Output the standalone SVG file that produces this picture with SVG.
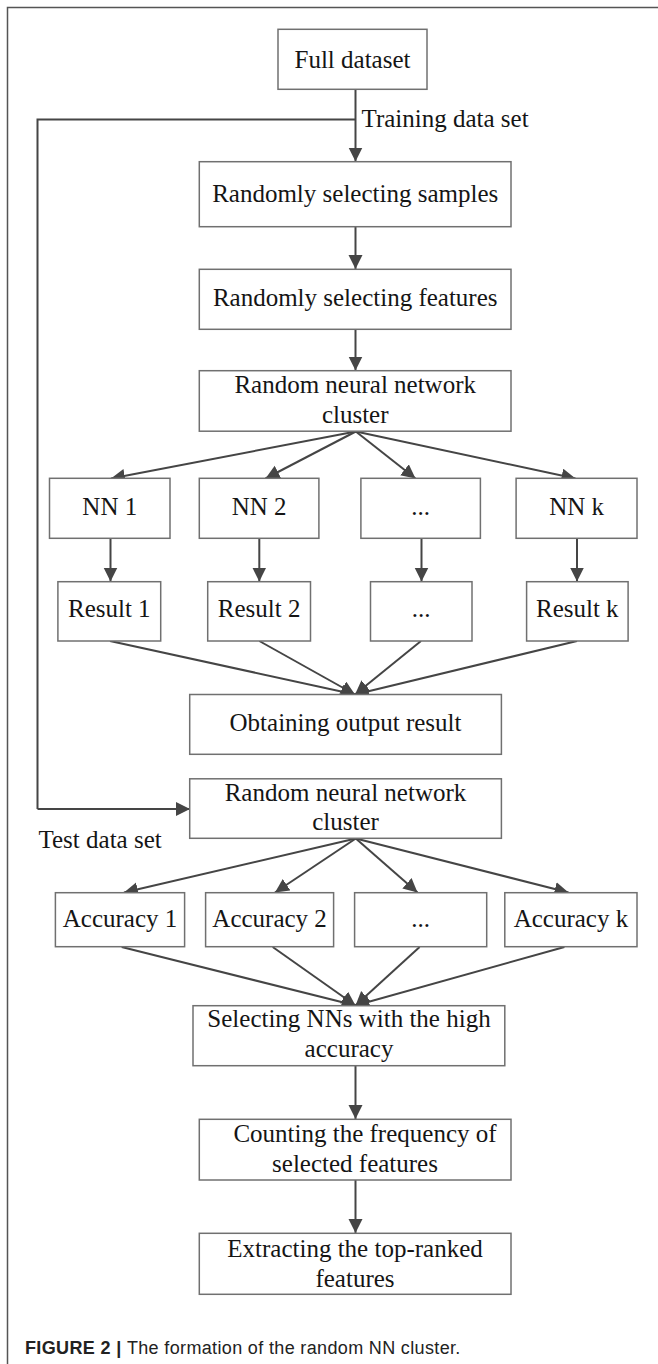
<svg xmlns="http://www.w3.org/2000/svg" width="658" height="1364" viewBox="0 0 658 1364">
<defs>
<style>
.box{fill:#fff;stroke:#707070;stroke-width:1.5}
.t{font-family:"Liberation Serif","Times New Roman",serif;font-size:25px;fill:#151515;text-anchor:middle}
.tl{font-family:"Liberation Serif","Times New Roman",serif;font-size:25px;fill:#151515}
.c{fill:none;stroke:#454545;stroke-width:2}
.a{fill:none;stroke:#454545;stroke-width:2;marker-end:url(#ah)}
.frame{fill:none;stroke:#555;stroke-width:1.5}
.cap{font-family:"Liberation Sans",Arial,sans-serif;font-size:18px;letter-spacing:0.35px;fill:#222}
</style>
<marker id="ah" markerUnits="userSpaceOnUse" markerWidth="16" markerHeight="16" refX="14" refY="7" orient="auto">
<path d="M0,0 L14,7 L0,14 Z" fill="#454545"/>
</marker>
</defs>
<rect width="658" height="1364" fill="#fff"/>
<path class="frame" d="M7.5,1364 V7.5 H658"/>

<g id="connectors">
<line class="a" x1="355.5" y1="89" x2="355.5" y2="161.5"/>
<path class="c" d="M355.5,119.5 H37.5 V809"/>
<line class="a" x1="37.5" y1="809" x2="190" y2="809"/>
<line class="a" x1="355.5" y1="227" x2="355.5" y2="269"/>
<line class="a" x1="355.5" y1="329" x2="355.5" y2="370.5"/>
<line class="a" x1="355.8" y1="431.5" x2="111" y2="478.5"/>
<line class="a" x1="355.8" y1="431.5" x2="265.5" y2="478.5"/>
<line class="a" x1="355.8" y1="431.5" x2="415.5" y2="478.5"/>
<line class="a" x1="355.8" y1="431.5" x2="575.5" y2="478.5"/>
<line class="a" x1="110.5" y1="538.5" x2="110.5" y2="581.5"/>
<line class="a" x1="259.3" y1="538.5" x2="259.3" y2="581.5"/>
<line class="a" x1="421.5" y1="538.5" x2="421.5" y2="581.5"/>
<line class="a" x1="577" y1="538.5" x2="577" y2="581.5"/>
<line class="a" x1="110" y1="641" x2="355" y2="694.5"/>
<line class="a" x1="259.3" y1="641" x2="355" y2="694.5"/>
<line class="a" x1="421" y1="641" x2="355" y2="694.5"/>
<line class="a" x1="577" y1="641" x2="355" y2="694.5"/>
<line class="a" x1="355.8" y1="838.5" x2="124" y2="892.5"/>
<line class="a" x1="355.8" y1="838.5" x2="275" y2="892.5"/>
<line class="a" x1="355.8" y1="838.5" x2="417.5" y2="892.5"/>
<line class="a" x1="355.8" y1="838.5" x2="568.5" y2="892.5"/>
<line class="a" x1="121.7" y1="947" x2="355.5" y2="1005.5"/>
<line class="a" x1="272.7" y1="947" x2="355.5" y2="1005.5"/>
<line class="a" x1="419.6" y1="947" x2="355.5" y2="1005.5"/>
<line class="a" x1="564.4" y1="947" x2="355.5" y2="1005.5"/>
<line class="a" x1="355.5" y1="1066" x2="355.5" y2="1119"/>
<line class="a" x1="355.5" y1="1180" x2="355.5" y2="1233"/>
<text class="tl" x="361.5" y="126.5">Training data set</text>
<text class="tl" x="38.5" y="848.3">Test data set</text>
</g>

<g id="full-dataset"><rect class="box" x="278" y="29.3" width="149" height="60"/><text class="t" x="352.5" y="68.3">Full dataset</text></g>
<g id="samples"><rect class="box" x="199.3" y="161.7" width="311.7" height="65"/><text class="t" x="355.2" y="202">Randomly selecting samples</text></g>
<g id="features"><rect class="box" x="199.3" y="269.3" width="311.7" height="60"/><text class="t" x="355.2" y="306">Randomly selecting features</text></g>
<g id="cluster1"><rect class="box" x="199.3" y="370.7" width="311.7" height="60.5"/><text class="t" x="355.2" y="392.7">Random neural network</text><text class="t" x="355.2" y="422.7">cluster</text></g>

<g id="nn1"><rect class="box" x="49.5" y="478.3" width="120.5" height="60"/><text class="t" x="109.8" y="515">NN 1</text></g>
<g id="nn2"><rect class="box" x="199.3" y="478.3" width="119.6" height="60"/><text class="t" x="259.1" y="515">NN 2</text></g>
<g id="nn-dots"><rect class="box" x="360.9" y="478.3" width="119.5" height="60"/><text class="t" x="420.6" y="515">...</text></g>
<g id="nnk"><rect class="box" x="516.1" y="478.3" width="120.9" height="60"/><text class="t" x="576.6" y="515">NN k</text></g>

<g id="result1"><rect class="box" x="57.9" y="581.7" width="102.8" height="59.3"/><text class="t" x="109.3" y="616.7">Result 1</text></g>
<g id="result2"><rect class="box" x="207.7" y="581.7" width="102.8" height="59.3"/><text class="t" x="259.1" y="616.7">Result 2</text></g>
<g id="result-dots"><rect class="box" x="370.5" y="581.7" width="101.5" height="59.3"/><text class="t" x="421.2" y="616.7">...</text></g>
<g id="resultk"><rect class="box" x="526.6" y="581.7" width="101.5" height="59.3"/><text class="t" x="577.3" y="616.7">Result k</text></g>

<g id="output"><rect class="box" x="189.7" y="694.5" width="311.7" height="59.8"/><text class="t" x="345.5" y="731">Obtaining output result</text></g>
<g id="cluster2"><rect class="box" x="189.7" y="778.8" width="311.7" height="59.5"/><text class="t" x="345.5" y="800.5">Random neural network</text><text class="t" x="345.5" y="830">cluster</text></g>

<g id="acc1"><rect class="box" x="55.4" y="892.7" width="129.2" height="54"/><text class="t" x="120" y="926.7">Accuracy 1</text></g>
<g id="acc2"><rect class="box" x="205.6" y="892.7" width="128" height="54"/><text class="t" x="269.6" y="926.7">Accuracy 2</text></g>
<g id="acc-dots"><rect class="box" x="354.6" y="892.7" width="132.1" height="54"/><text class="t" x="420.6" y="926.7">...</text></g>
<g id="acck"><rect class="box" x="504.8" y="892.7" width="132.2" height="54"/><text class="t" x="570.9" y="926.7">Accuracy k</text></g>

<g id="selecting"><rect class="box" x="193" y="1005.7" width="311.8" height="60"/><text class="t" x="349" y="1026.7">Selecting NNs with the high</text><text class="t" x="349" y="1056.7">accuracy</text></g>
<g id="counting"><rect class="box" x="199.3" y="1119.3" width="311.7" height="60.7"/><text class="t" x="365" y="1141.7">Counting the frequency of</text><text class="t" x="355" y="1171.7">selected features</text></g>
<g id="extracting"><rect class="box" x="199.3" y="1233.3" width="311.7" height="61"/><text class="t" x="355" y="1257">Extracting the top-ranked</text><text class="t" x="355" y="1287">features</text></g>

<text class="cap" x="25" y="1354"><tspan font-weight="bold">FIGURE 2 | </tspan>The formation of the random NN cluster.</text>
</svg>
